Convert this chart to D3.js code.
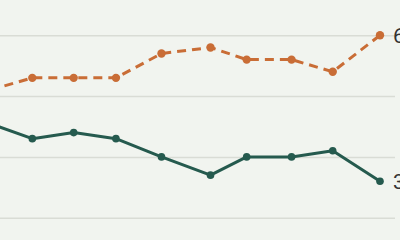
<!DOCTYPE html>
<html><head><meta charset="utf-8">
<script src="https://cdn.jsdelivr.net/npm/d3@7"></script>
<style>
html,body{margin:0;padding:0;background:#f1f4ef;}
svg{display:block;}
</style></head>
<body>
<svg id="chart" width="400" height="240"></svg>
<script>
// data
const periods = [0.03, 1, 1.95, 2.92, 3.965, 5.09, 5.92, 6.95, 7.895, 8.98];
const seriesA = [51, 53, 53, 53, 57, 58, 56, 56, 54, 60];   // orange dashed
const seriesB = [45.5, 43, 44, 43, 40, 37, 40, 40, 41, 36]; // green solid
const yTicks = [30, 40, 50, 60];
const endLabels = ["60", "36"];

const svg = d3.select("#chart");
const W = 400, H = 240;
svg.append("rect").attr("width", W).attr("height", H).attr("fill", "#f1f4ef");

const x = d3.scaleLinear().domain([1, 8.98]).range([32.3, 380]);
const y = d3.scaleLinear().domain([30, 60]).range([217.7, 35.3]);

// gridlines
const yAxis = d3.axisLeft(y).tickValues(yTicks).tickSize(-(395 + 20)).tickFormat("");
const g = svg.append("g").attr("transform", "translate(395,0)").call(yAxis);
g.select(".domain").remove();
g.selectAll(".tick line").attr("stroke", "#d9dcd5").attr("stroke-width", 1.5)
  .attr("transform", "translate(0,0)");
// axisLeft ticks extend right by -size; flip so lines go left from 395
g.selectAll(".tick line").attr("x1", 0).attr("x2", -(395 + 20));

const line = d3.line().x((d, i) => x(periods[i])).y(d => y(d));

const series = [
  {vals: seriesA, color: "#c96d36", dash: "9,6", r: 4.2, label: endLabels[0]},
  {vals: seriesB, color: "#255a4e", dash: null, r: 3.8, label: endLabels[1]}
];

series.forEach(s => {
  svg.append("path").datum(s.vals)
    .attr("d", line)
    .attr("fill", "none")
    .attr("stroke", s.color)
    .attr("stroke-width", 3)
    .attr("stroke-linejoin", "round")
    .attr("stroke-dasharray", s.dash);
  svg.selectAll(null).data(s.vals).enter().append("circle")
    .attr("cx", (d, i) => x(periods[i]))
    .attr("cy", d => y(d))
    .attr("r", s.r)
    .attr("fill", s.color);
  const last = s.vals.length - 1;
  svg.append("text")
    .attr("x", x(periods[last]) + 13)
    .attr("y", y(s.vals[last]))
    .attr("dy", "0.35em")
    .attr("font-family", "Roboto, 'Noto Sans', sans-serif")
    .attr("font-size", 21)
    .attr("fill", "#333")
    .text(s.label);
});
</script>
</body></html>
